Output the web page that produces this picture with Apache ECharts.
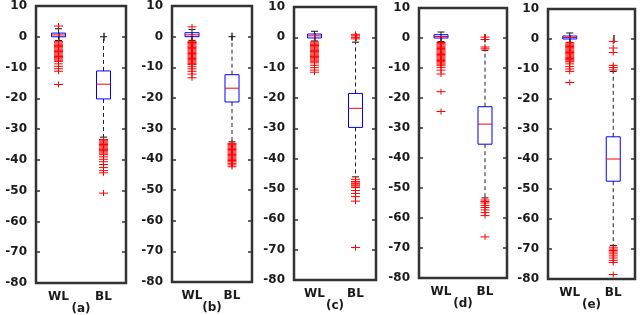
<!DOCTYPE html>
<html>
<head>
<meta charset="utf-8">
<script src="https://cdn.jsdelivr.net/npm/echarts@6/dist/echarts.min.js"></script>
<style>html,body{margin:0;padding:0;background:#fff;}#c{width:640px;height:315px;}</style>
</head>
<body>
<div id="c"></div>
<script>
// ---- data ----
const categories = ['WL', 'BL'];
const panelNames = ['(a)', '(b)', '(c)', '(d)', '(e)'];
const yMin = -80, yMax = 10, yStep = 10;

// box statistics: [lower whisker, Q1, median, Q3, upper whisker]
const wlStats = [
  [-1.2, 0.0, 0.6, 1.2, 2.6],
  [-1.2, 0.0, 0.6, 1.3, 2.3],
  [-1.2, -0.2, 0.5, 1.1, 2.0],
  [-1.2, 0.0, 0.5, 1.1, 2.0],
  [-1.1, 0.0, 0.5, 1.0, 2.0]
];
const blStats = [
  [0.0, -11.1, -15.4, -20.2, -32.6],
  [0.0, -12.4, -16.8, -21.3, -34.3],
  [-1.6, -18.5, -23.4, -29.7, -46.0],
  [-4.1, -22.9, -28.7, -35.4, -53.3],
  [-10.8, -32.6, -40.0, -47.4, -68.8]
];

// outliers
const wlOutliers = [
  [3.5, -1.6, -2.0, -2.4, -2.8, -3.2, -3.6, -4.0, -4.4, -4.8, -5.2, -5.6, -6.0, -6.4, -6.8, -7.2, -7.6, -8.0, -8.8, -9.6, -10.4, -11.2, -15.5],
  [3.2, -1.5, -1.9, -2.3, -2.7, -3.1, -3.5, -3.9, -4.3, -4.7, -5.1, -5.5, -5.9, -6.3, -6.7, -7.1, -7.5, -7.9, -8.3, -8.7, -9.1, -9.8, -10.5, -11.3, -12.2, -13.4],
  [-1.5, -1.9, -2.3, -2.7, -3.1, -3.5, -3.9, -4.3, -4.7, -5.1, -5.5, -5.9, -6.3, -6.7, -7.1, -7.5, -7.9, -8.4, -9.2, -10.0, -10.8, -11.5],
  [-1.5, -1.9, -2.3, -2.7, -3.1, -3.5, -3.9, -4.3, -4.7, -5.1, -5.5, -5.9, -6.3, -6.7, -7.1, -7.5, -7.9, -8.3, -8.7, -9.1, -9.8, -10.7, -12.0, -17.9, -24.5],
  [-1.3, -1.7, -2.1, -2.5, -2.9, -3.3, -3.7, -4.1, -4.5, -4.9, -5.3, -5.7, -6.1, -6.5, -6.9, -7.3, -7.6, -8.3, -9.2, -10.0, -10.8, -14.5]
];
const blOutliers = [
  [-33.4, -33.8, -34.2, -34.6, -35.0, -35.4, -35.8, -36.2, -36.6, -37.0, -37.4, -37.8, -38.3, -39.0, -39.8, -40.6, -41.5, -42.5, -43.5, -44.2, -50.8],
  [-34.8, -35.2, -35.6, -36.0, -36.4, -36.8, -37.2, -37.6, -38.0, -38.4, -38.8, -39.2, -39.6, -40.0, -40.4, -40.8, -41.3, -41.8, -42.4],
  [1.0, 0.5, 0.0, -0.5, -46.8, -47.5, -48.0, -48.3, -48.7, -49.0, -49.5, -50.5, -51.5, -52.5, -54.0, -69.3],
  [0.3, -0.5, -3.0, -3.6, -54.0, -54.5, -55.0, -55.8, -56.5, -57.3, -58.2, -59.2, -66.3],
  [-0.8, -3.0, -4.5, -8.8, -9.5, -10.3, -69.4, -70.0, -70.5, -71.0, -71.6, -72.3, -73.0, -73.8, -74.5, -78.5]
];

// ---- layout ----
const gridPos = [
  { left: 36, top: 6, width: 90, height: 277 },
  { left: 172, top: 6, width: 80, height: 276 },
  { left: 294, top: 7, width: 82, height: 273 },
  { left: 419, top: 8, width: 88, height: 270 },
  { left: 548, top: 9, width: 87, height: 270 }
];

const frameColor = '#333333';
const textColor = '#1a1a1a';
const font = 'DejaVu Sans';

function renderBox(params, api) {
  const c = api.value(0);
  const lo = api.coord([c, api.value(1)]);
  const q1 = api.coord([c, api.value(2)]);
  const md = api.coord([c, api.value(3)]);
  const q3 = api.coord([c, api.value(4)]);
  const hi = api.coord([c, api.value(5)]);
  const x = lo[0];
  const hw = 7, cw = 3.5;
  const dash = { stroke: '#222', lineWidth: 1, lineDash: [4, 3] };
  const solid = { stroke: '#111', lineWidth: 1 };
  return {
    type: 'group',
    children: [
      { type: 'line', shape: { x1: x, y1: q3[1], x2: x, y2: hi[1] }, style: dash },
      { type: 'line', shape: { x1: x, y1: q1[1], x2: x, y2: lo[1] }, style: dash },
      { type: 'line', shape: { x1: x - cw, y1: hi[1], x2: x + cw, y2: hi[1] }, style: solid },
      { type: 'line', shape: { x1: x - cw, y1: lo[1], x2: x + cw, y2: lo[1] }, style: solid },
      { type: 'rect', shape: { x: x - hw, y: Math.min(q1[1], q3[1]), width: 2 * hw, height: Math.abs(q1[1] - q3[1]) },
        style: { fill: 'none', stroke: '#0000ff', lineWidth: 1 } },
      { type: 'line', shape: { x1: x - hw, y1: md[1], x2: x + hw, y2: md[1] }, style: { stroke: '#ff0000', lineWidth: 1 } }
    ]
  };
}

function renderPlus(params, api) {
  const p = api.coord([api.value(0), api.value(1)]);
  const w = 4.5, h = 3;
  const st = { stroke: '#ff0000', lineWidth: 1 };
  return {
    type: 'group',
    children: [
      { type: 'line', shape: { x1: p[0] - w, y1: p[1], x2: p[0] + w, y2: p[1] }, style: st },
      { type: 'line', shape: { x1: p[0], y1: p[1] - h, x2: p[0], y2: p[1] + h }, style: st }
    ]
  };
}

const grid = [], xAxis = [], yAxis = [], series = [];
gridPos.forEach((g, i) => {
  grid.push(Object.assign({ show: true, borderColor: frameColor, borderWidth: 2.5, containLabel: false, outerBoundsMode: 'none' }, g));
  const tick = { show: true, inside: true, length: 4, alignWithLabel: true, lineStyle: { color: frameColor, width: 1.5 } };
  xAxis.push({
    type: 'category', gridIndex: i, data: categories, position: 'bottom', boundaryGap: true,
    axisLine: { show: false }, axisTick: tick,
    axisLabel: { color: textColor, fontFamily: font, fontWeight: 'bold', fontSize: 12, margin: 8 },
    name: panelNames[i], nameLocation: 'middle', nameGap: 20, nameMoveOverlap: false,
    nameTextStyle: { color: textColor, fontFamily: font, fontWeight: 'bold', fontSize: 12 }
  });
  xAxis.push({
    type: 'category', gridIndex: i, data: categories, position: 'top', boundaryGap: true,
    axisLine: { show: false }, axisTick: tick, axisLabel: { show: false }
  });
  const ytick = { show: true, inside: true, length: 4, lineStyle: { color: frameColor, width: 1.5 } };
  yAxis.push({
    type: 'value', gridIndex: i, min: yMin, max: yMax, interval: yStep, position: 'left',
    axisLine: { show: false }, axisTick: ytick, splitLine: { show: false },
    axisLabel: { color: textColor, fontFamily: font, fontWeight: 'bold', fontSize: 12, margin: 9 }
  });
  yAxis.push({
    type: 'value', gridIndex: i, min: yMin, max: yMax, interval: yStep, position: 'right',
    axisLine: { show: false }, axisTick: ytick, splitLine: { show: false }, axisLabel: { show: false }
  });
  series.push({
    type: 'custom', xAxisIndex: 2 * i, yAxisIndex: 2 * i, renderItem: renderBox, silent: true,
    encode: { x: 0, y: [1, 2, 3, 4, 5] },
    data: [[0].concat(wlStats[i]), [1].concat(blStats[i])]
  });
  series.push({
    type: 'custom', xAxisIndex: 2 * i, yAxisIndex: 2 * i, renderItem: renderPlus, silent: true,
    encode: { x: 0, y: 1 },
    data: wlOutliers[i].map(v => [0, v]).concat(blOutliers[i].map(v => [1, v]))
  });
});

const chart = echarts.init(document.getElementById('c'), null, { renderer: 'canvas' });
chart.setOption({ animation: false, backgroundColor: '#ffffff', grid, xAxis, yAxis, series });
</script>
</body>
</html>
